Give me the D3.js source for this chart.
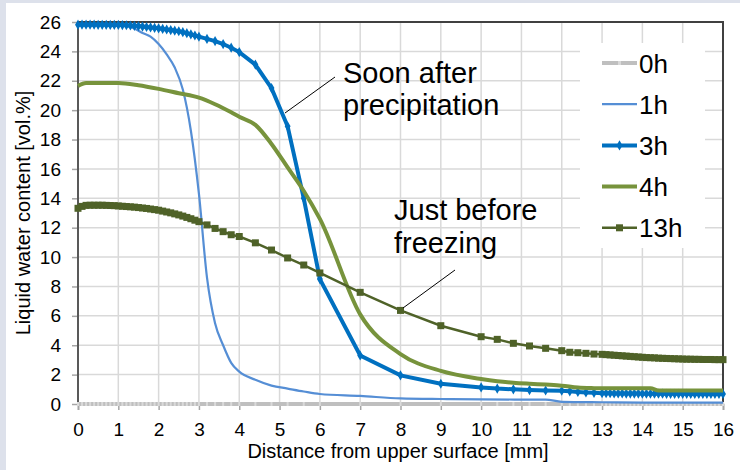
<!DOCTYPE html>
<html>
<head>
<meta charset="utf-8">
<title>Liquid water content</title>
<style>
body { margin: 0; background-color: #dde1eb; }
svg { display: block; }
text { font-family: "Liberation Sans", Arial, sans-serif; fill: #000; }
</style>
</head>
<body>
<script src="https://cdn.jsdelivr.net/npm/d3@7"></script>
<script>

// mesh positions [mm] shared by the marker series
var depth = [0,0.1,0.2,0.3,0.4,0.5,0.6,0.7,0.8,0.9,1,1.1,1.2,1.3,1.4,1.5,1.6,1.7,1.8,1.9,2,
  2.1,2.2,2.3,2.4,2.5,2.6,2.7,2.8,2.9,3,3.2,3.4,3.6,3.8,4,4.4,4.8,5.2,5.6,6,7,8,9,10,
  10.4,10.8,11.2,11.6,12,12.2,12.4,12.6,12.8,13,13.1,13.2,13.3,13.4,13.5,13.6,13.7,13.8,13.9,14,
  14.1,14.2,14.3,14.4,14.5,14.6,14.7,14.8,14.9,15,15.1,15.2,15.3,15.4,15.5,15.6,15.7,15.8,15.9,16];

var h0 = [0,0,0,0,0,0,0,0,0,0,0,0,0,0,0,0,0,0,0,0,0,0,0,0,0,0,0,0,0,0,0,0,0,0,0,0,0,0,0,0,0,0,0,0,0,
  0,0,0,0,0,0,0,0,0,0,0,0,0,0,0,0,0,0,0,0,0,0,0,0,0,0,0,0,0,0,0,0,0,0,0,0,0,0,0,0];

var h3 = [25.82,25.82,25.82,25.82,25.82,25.81,25.81,25.81,25.8,25.8,25.8,
  25.79,25.78,25.76,25.74,25.72,25.69,25.66,25.63,25.6,25.57,
  25.53,25.49,25.45,25.41,25.37,25.31,25.24,25.16,25.08,25.0,
  24.85,24.7,24.5,24.25,23.95,23.1,21.5,18.9,14.0,8.5,3.3,1.95,1.38,1.13,
  1.05,1.0,0.95,0.92,0.9,0.86,0.82,0.79,0.76,0.74,
  0.73,0.73,0.72,0.72,0.72,0.71,0.71,0.71,0.71,0.7,0.7,0.7,0.7,0.7,0.7,
  0.69,0.69,0.69,0.69,0.69,0.69,0.68,0.68,0.68,0.68,0.68,0.68,0.68,0.68,0.68];

var h13 = [13.32,13.45,13.52,13.53,13.53,13.53,13.53,13.52,13.51,13.5,13.48,
  13.46,13.44,13.42,13.4,13.37,13.34,13.31,13.27,13.23,13.19,
  13.13,13.07,13.01,12.94,12.87,12.79,12.7,12.61,12.51,12.41,
  12.19,11.95,11.73,11.52,11.4,10.97,10.48,9.94,9.46,8.92,7.6,6.37,5.33,4.58,
  4.4,4.13,3.95,3.79,3.63,3.52,3.49,3.45,3.4,3.38,
  3.36,3.34,3.32,3.3,3.28,3.26,3.24,3.22,3.2,3.18,3.16,3.15,3.14,3.12,3.11,
  3.1,3.09,3.08,3.07,3.06,3.05,3.05,3.04,3.04,3.03,3.03,3.03,3.02,3.02,3.02];

// smooth series without markers
var depth1 = [0,0.5,1,1.2,1.4,1.6,1.8,2,2.2,2.4,2.6,2.8,3,3.2,3.4,3.6,3.8,4,4.4,4.8,5.2,5.6,6,7,8,9,10,11,11.6,12,13,14,16];
var h1 = [25.8,25.8,25.8,25.75,25.55,25.25,25.0,24.5,23.8,22.9,21.4,18.6,14.3,8.6,5.5,4.0,2.8,2.2,1.65,1.25,1.05,0.85,0.68,0.55,0.38,0.34,0.32,0.3,0.3,0.15,0.12,0.1,0.1];

var depth4 = [0,0.2,0.5,1,1.5,2,2.5,3,3.4,3.8,4,4.4,4.8,5.2,5.6,6,7,8,9,10,10.4,10.8,11.2,11.6,12,12.4,12.8,13,14.2,14.4,16];
var h4 = [21.65,21.85,21.85,21.85,21.7,21.45,21.15,20.85,20.4,19.85,19.55,19.0,17.7,16.1,14.5,12.6,6.1,3.4,2.25,1.7,1.55,1.45,1.38,1.32,1.25,1.12,1.08,1.07,1.07,0.92,0.92];

var xTicks = d3.range(0, 17, 1);
var yTicks = d3.range(0, 27, 2);

var w = 740, h = 470;
var padL = 78, padT = 22, padR = 723, padB = 404;

var svg = d3.select("body").append("svg")
  .attr("width", w)
  .attr("height", h);

// white card with the grey strip at left / top
svg.append("rect")
  .attr("x", 6).attr("y", 3)
  .attr("width", w - 6).attr("height", h - 3)
  .attr("fill", "#ffffff");

var x = d3.scaleLinear().domain([0, 16]).range([padL, padR]);
var y = d3.scaleLinear().domain([0, 26]).range([padB, padT]);

// grid
svg.append("g")
  .selectAll("line").data(xTicks).enter().append("line")
  .attr("x1", function(d) { return x(d); })
  .attr("x2", function(d) { return x(d); })
  .attr("y1", padT).attr("y2", padB)
  .attr("stroke", "#d9d9d9").attr("stroke-width", 1.5);
svg.append("g")
  .selectAll("line").data(yTicks).enter().append("line")
  .attr("x1", padL).attr("x2", padR)
  .attr("y1", function(d) { return y(d); })
  .attr("y2", function(d) { return y(d); })
  .attr("stroke", "#d9d9d9").attr("stroke-width", 1.5);

// axes
var xAxis = svg.append("g")
  .attr("transform", "translate(0," + padB + ")")
  .call(d3.axisBottom(x).tickValues(xTicks).tickSize(6).tickPadding(13).tickFormat(d3.format("d")));
xAxis.select(".domain").attr("stroke", "#bfbfbf").attr("stroke-width", 2);
xAxis.selectAll(".tick line").attr("stroke", "#a6a6a6").attr("stroke-width", 1.5);
xAxis.selectAll(".tick text").attr("font-size", "19px").attr("font-family", "Liberation Sans, Arial, sans-serif");

var yAxis = svg.append("g")
  .attr("transform", "translate(" + padL + ",0)")
  .call(d3.axisLeft(y).tickValues(yTicks).tickSize(6).tickPadding(11).tickFormat(d3.format("d")));
yAxis.select(".domain").remove();
yAxis.selectAll(".tick line").attr("stroke", "#a6a6a6").attr("stroke-width", 1.5);
yAxis.selectAll(".tick text").attr("font-size", "19px").attr("font-family", "Liberation Sans, Arial, sans-serif");

// frame
svg.append("line").attr("x1", padL).attr("x2", padL).attr("y1", padT - 1).attr("y2", padB)
  .attr("stroke", "#595959").attr("stroke-width", 2);
svg.append("line").attr("x1", padL - 1).attr("x2", padR + 1).attr("y1", padT).attr("y2", padT)
  .attr("stroke", "#404040").attr("stroke-width", 2);
svg.append("line").attr("x1", padR).attr("x2", padR).attr("y1", padT).attr("y2", padB)
  .attr("stroke", "#404040").attr("stroke-width", 2);

// axis titles
svg.append("text")
  .attr("x", 398).attr("y", 458)
  .attr("text-anchor", "middle")
  .attr("font-size", "20px")
  .text("Distance from upper surface [mm]");
svg.append("text")
  .attr("transform", "translate(30,213) rotate(-90)")
  .attr("text-anchor", "middle")
  .attr("font-size", "20px")
  .text("Liquid water content [vol.%]");

function pts(xs, ys) {
  return xs.map(function(d, i) { return [d, ys[i]]; });
}
var line = d3.line().x(function(d) { return x(d[0]); }).y(function(d) { return y(d[1]); });
var smooth = d3.line().x(function(d) { return x(d[0]); }).y(function(d) { return y(d[1]); })
  .curve(d3.curveMonotoneX);

var diamond = d3.symbol().type(d3.symbolDiamond).size(30);

// 0h
svg.append("path").datum(pts(depth, h0)).attr("d", line)
  .attr("fill", "none").attr("stroke", "#bfbfbf").attr("stroke-width", 4);
svg.append("g").selectAll("rect").data(pts(depth, h0)).enter().append("rect")
  .attr("x", function(d) { return x(d[0]) - 1; })
  .attr("y", function(d) { return y(d[1]) - 2; })
  .attr("width", 2).attr("height", 4)
  .attr("fill", "#d9d9d9");

// 1h
svg.append("path").datum(pts(depth1, h1)).attr("d", smooth)
  .attr("fill", "none").attr("stroke", "#558ed5").attr("stroke-width", 2.2);

// 3h
svg.append("path").datum(pts(depth, h3)).attr("d", line)
  .attr("fill", "none").attr("stroke", "#0070c0").attr("stroke-width", 4);
svg.append("g").selectAll("path").data(pts(depth, h3)).enter().append("path")
  .attr("d", diamond)
  .attr("transform", function(d) { return "translate(" + x(d[0]) + "," + y(d[1]) + ")"; })
  .attr("fill", "#0070c0");

// 4h
svg.append("path").datum(pts(depth4, h4)).attr("d", smooth)
  .attr("fill", "none").attr("stroke", "#77933c").attr("stroke-width", 4);

// 13h
svg.append("path").datum(pts(depth, h13)).attr("d", line)
  .attr("fill", "none").attr("stroke", "#4f6228").attr("stroke-width", 2.5);
svg.append("g").selectAll("rect").data(pts(depth, h13)).enter().append("rect")
  .attr("x", function(d) { return x(d[0]) - 3.5; })
  .attr("y", function(d) { return y(d[1]) - 3.5; })
  .attr("width", 7).attr("height", 7)
  .attr("fill", "#4f6228");

// annotations
svg.append("line").attr("x1", 335).attr("y1", 77).attr("x2", 285).attr("y2", 113)
  .attr("stroke", "#000").attr("stroke-width", 1);
svg.append("text").attr("x", 343).attr("y", 83).attr("font-size", "29px").text("Soon after");
svg.append("text").attr("x", 343).attr("y", 115).attr("font-size", "29px").text("precipitation");

svg.append("line").attr("x1", 455).attr("y1", 270).attr("x2", 403).attr("y2", 308)
  .attr("stroke", "#000").attr("stroke-width", 1);
svg.append("text").attr("x", 394).attr("y", 220).attr("font-size", "29px").text("Just before");
svg.append("text").attr("x", 394).attr("y", 253).attr("font-size", "29px").text("freezing");

// legend
var series = ["0h", "1h", "3h", "4h", "13h"];
var colors = ["#bfbfbf", "#558ed5", "#0070c0", "#77933c", "#4f6228"];
var widths = [4, 2.2, 4, 4, 2.5];

svg.append("rect").attr("x", 580).attr("y", 43).attr("width", 125).attr("height", 205)
  .attr("fill", "#ffffff");
var lg = svg.append("g").selectAll("g").data(series).enter().append("g")
  .attr("transform", function(d, i) { return "translate(602," + (63 + i * 41.2) + ")"; });
lg.append("line").attr("x1", 0).attr("x2", 35).attr("y1", 0).attr("y2", 0)
  .attr("stroke", function(d, i) { return colors[i]; })
  .attr("stroke-width", function(d, i) { return widths[i]; });
lg.filter(function(d) { return d == "0h"; }).append("rect")
  .attr("x", 16).attr("y", -2).attr("width", 3).attr("height", 4).attr("fill", "#d9d9d9");
lg.filter(function(d) { return d == "3h"; }).append("path")
  .attr("d", diamond).attr("transform", "translate(17.5,0)").attr("fill", "#0070c0");
lg.filter(function(d) { return d == "13h"; }).append("rect")
  .attr("x", 14).attr("y", -3.5).attr("width", 7).attr("height", 7).attr("fill", "#4f6228");
lg.append("text").attr("x", 37).attr("y", 9.5).attr("font-size", "26px")
  .text(function(d) { return d; });

</script>
</body>
</html>
